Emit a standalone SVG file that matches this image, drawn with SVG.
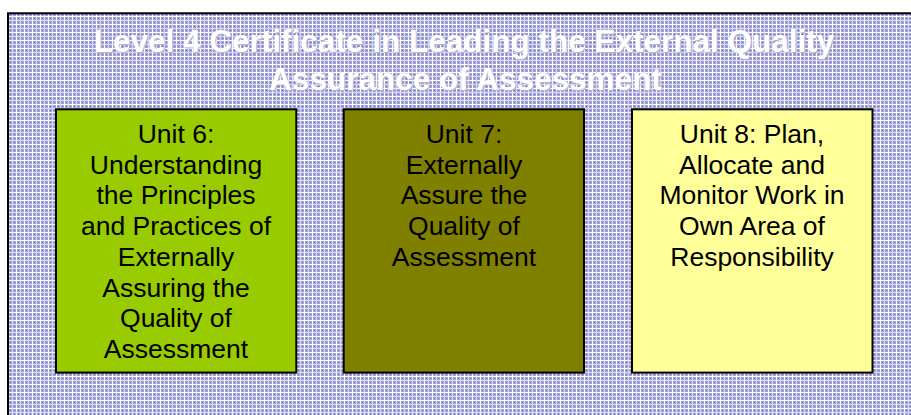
<svg xmlns="http://www.w3.org/2000/svg" width="911" height="415" viewBox="0 0 911 415">
<defs>
<pattern id="plaid" width="8" height="8" patternUnits="userSpaceOnUse">
<rect width="8" height="8" fill="#a4a4d8"/>
<rect x="0" y="0" width="8" height="1" fill="#ffffff"/>
<rect x="0" y="0" width="1" height="8" fill="#ffffff"/>
<rect x="0" y="4" width="8" height="1" fill="#d8d8f0"/>
<rect x="4" y="0" width="1" height="8" fill="#d8d8f0"/>
<rect x="2" y="2" width="1" height="1" fill="#6666b8"/>
<rect x="6" y="6" width="1" height="1" fill="#6666b8"/>
<rect x="6" y="2" width="1" height="1" fill="#7676c0"/>
<rect x="2" y="6" width="1" height="1" fill="#7676c0"/>
</pattern>
</defs>
<style>
.box{stroke:#000;stroke-width:2}
.lbl{font-family:"Liberation Sans",Arial,sans-serif;font-size:26.5px;fill:#000;text-anchor:middle}
.title{font-family:"Liberation Sans",Arial,sans-serif;font-size:31.5px;font-weight:bold;fill:#fff;text-anchor:middle}
.shadow{fill:#b4b4c8}
</style>
<rect width="911" height="415" fill="#fff"/>
<g id="frame">
<rect x="8" y="13.3" width="920" height="420" fill="url(#plaid)" stroke="#000" stroke-width="2"/>
</g>
<g id="title">
<text class="title shadow" x="465" y="53">Level 4 Certificate in Leading the External Quality</text>
<text class="title shadow" x="466.5" y="91">Assurance of Assessment</text>
<text class="title" x="464" y="52">Level 4 Certificate in Leading the External Quality</text>
<text class="title" x="465.5" y="90">Assurance of Assessment</text>
</g>
<g id="unit6">
<rect class="box" x="56" y="109.3" width="240.3" height="263.3" fill="#99cc00"/>
<text class="lbl" x="176" y="143">Unit 6:</text>
<text class="lbl" x="176" y="173.7">Understanding</text>
<text class="lbl" x="176" y="204.4">the Principles</text>
<text class="lbl" x="176" y="235.1">and Practices of</text>
<text class="lbl" x="176" y="265.8">Externally</text>
<text class="lbl" x="176" y="296.5">Assuring the</text>
<text class="lbl" x="176" y="327.2">Quality of</text>
<text class="lbl" x="176" y="357.9">Assessment</text>
</g>
<g id="unit7">
<rect class="box" x="343.7" y="109.3" width="240.3" height="263.3" fill="#808000"/>
<text class="lbl" x="464" y="143">Unit 7:</text>
<text class="lbl" x="464" y="173.7">Externally</text>
<text class="lbl" x="464" y="204.4">Assure the</text>
<text class="lbl" x="464" y="235.1">Quality of</text>
<text class="lbl" x="464" y="265.8">Assessment</text>
</g>
<g id="unit8">
<rect class="box" x="632" y="109.3" width="240.5" height="263.3" fill="#ffff99"/>
<text class="lbl" x="752" y="143">Unit 8: Plan,</text>
<text class="lbl" x="752" y="173.7">Allocate and</text>
<text class="lbl" x="752" y="204.4">Monitor Work in</text>
<text class="lbl" x="752" y="235.1">Own Area of</text>
<text class="lbl" x="752" y="265.8">Responsibility</text>
</g>
<g id="connectors"></g>
</svg>
